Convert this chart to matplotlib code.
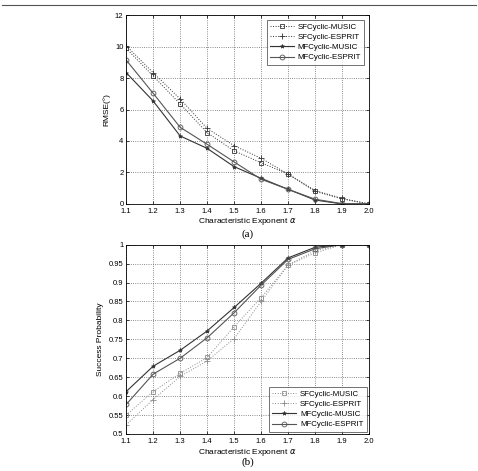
import matplotlib

matplotlib.use("Agg")

import matplotlib.pyplot as plt
from matplotlib.lines import Line2D

alpha = [1.1, 1.2, 1.3, 1.4, 1.5, 1.6, 1.7, 1.8, 1.9, 2.0]
xticklabels = ["1.1", "1.2", "1.3", "1.4", "1.5", "1.6", "1.7", "1.8", "1.9", "2.0"]
names = ["SFCyclic-MUSIC", "SFCyclic-ESPRIT", "MFCyclic-MUSIC", "MFCyclic-ESPRIT"]

# (a) RMSE
rmse_sf_music = [9.88, 8.13, 6.35, 4.53, 3.37, 2.62, 1.9, 0.8, 0.32, 0.0]
rmse_sf_esprit = [10.05, 8.34, 6.67, 4.8, 3.7, 2.9, 1.9, 0.85, 0.35, 0.0]
rmse_mf_music = [8.34, 6.54, 4.32, 3.53, 2.37, 1.63, 0.93, 0.25, 0.0, 0.0]
rmse_mf_esprit = [9.14, 7.03, 4.87, 3.79, 2.67, 1.57, 0.93, 0.3, 0.02, 0.0]

# (b) success probability
sp_sf_music = [0.55, 0.612, 0.66, 0.702, 0.783, 0.86, 0.946, 0.978, 1.0, 1.0]
sp_sf_esprit = [0.524, 0.591, 0.652, 0.693, 0.752, 0.85, 0.946, 0.984, 1.0, 1.0]
sp_mf_music = [0.612, 0.679, 0.721, 0.772, 0.834, 0.898, 0.965, 0.993, 1.0, 1.0]
sp_mf_esprit = [0.578, 0.658, 0.70, 0.754, 0.82, 0.893, 0.961, 0.989, 1.0, 1.0]

plt.rcParams["font.family"] = ["Liberation Sans", "DejaVu Sans"]

fig = plt.figure(figsize=(4.78, 4.71), dpi=100)
fig.add_artist(Line2D([0.005, 0.995], [1 - 4.5 / 471, 1 - 4.5 / 471],
                      color="#555555", lw=0.8))


def style_axes(ax, ylabel, caption, cap_y):
    ax.set_xlim(1.1, 2.0)
    ax.set_xticks(alpha)
    ax.set_xticklabels(xticklabels)
    ax.grid(True, ls=":", color="#666666", lw=0.6)
    ax.tick_params(direction="in", labelsize=5.5, length=2.5, width=0.5,
                   top=True, right=True, pad=2)
    ax.tick_params(axis="x", pad=3)
    for s in ax.spines.values():
        s.set_linewidth(0.6)
    ax.set_xlabel(r"Characteristic Exponent $\alpha$", fontsize=6, labelpad=1)
    ax.set_ylabel(ylabel, fontsize=6, labelpad=3)
    ax.text(0.5, cap_y, caption, transform=ax.transAxes, ha="center",
            va="center", fontsize=8, family="Liberation Serif")


# top panel
ax1 = fig.add_axes([0.264, 0.567, 0.508, 0.401])
ax1.plot(alpha, rmse_sf_music, ls=":", color="#333333", lw=0.7, marker="s",
         ms=3.5, mfc="none", mew=0.6, label=names[0])
ax1.plot(alpha, rmse_sf_esprit, ls=":", color="#333333", lw=0.7, marker="+",
         ms=4, mew=0.6, label=names[1])
ax1.plot(alpha, rmse_mf_music, ls="-", color="#333333", lw=0.8, marker="*",
         ms=3, mew=0.5, label=names[2])
ax1.plot(alpha, rmse_mf_esprit, ls="-", color="#555555", lw=0.8, marker="o",
         ms=3.5, mfc="none", mew=0.6, label=names[3])
ax1.set_ylim(0, 12)
ax1.set_yticks([0, 2, 4, 6, 8, 10, 12])
style_axes(ax1, "RMSE(°)", "(a)", -0.16)
leg = ax1.legend(loc="upper right", fontsize=5.7, frameon=True, fancybox=False,
                 edgecolor="#333333", borderaxespad=0.6, handlelength=3,
                 handletextpad=0.5, labelspacing=0.35, borderpad=0.4)
leg.get_frame().set_linewidth(0.6)

# bottom panel
ax2 = fig.add_axes([0.264, 0.0786, 0.508, 0.402])
ax2.plot(alpha, sp_sf_music, ls=":", color="#8a8a8a", lw=0.7, marker="s",
         ms=3.5, mfc="none", mew=0.6, label=names[0])
ax2.plot(alpha, sp_sf_esprit, ls=":", color="#8a8a8a", lw=0.7, marker="+",
         ms=4, mew=0.6, label=names[1])
ax2.plot(alpha, sp_mf_music, ls="-", color="#333333", lw=0.8, marker="*",
         ms=3, mew=0.5, label=names[2])
ax2.plot(alpha, sp_mf_esprit, ls="-", color="#555555", lw=0.8, marker="o",
         ms=3.5, mfc="none", mew=0.6, label=names[3])
ax2.set_ylim(0.5, 1.0)
ax2.set_yticks([0.5, 0.55, 0.6, 0.65, 0.7, 0.75, 0.8, 0.85, 0.9, 0.95, 1.0])
ax2.set_yticklabels(["0.5", "0.55", "0.6", "0.65", "0.7", "0.75", "0.8",
                     "0.85", "0.9", "0.95", "1"])
style_axes(ax2, "Success Probability", "(b)", -0.15)
leg = ax2.legend(loc="lower right", fontsize=5.7, frameon=True, fancybox=False,
                 edgecolor="#333333", borderaxespad=0.3, handlelength=3,
                 handletextpad=0.5, labelspacing=0.35, borderpad=0.4)
leg.get_frame().set_linewidth(0.6)

fig.savefig("out.png", dpi=100)
